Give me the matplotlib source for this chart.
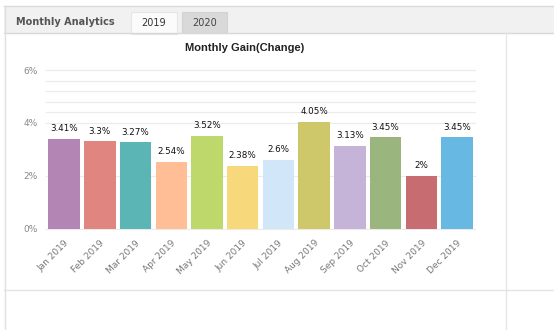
import matplotlib.pyplot as plt
from matplotlib.patches import Rectangle

# data
months = ['Jan 2019', 'Feb 2019', 'Mar 2019', 'Apr 2019', 'May 2019', 'Jun 2019',
          'Jul 2019', 'Aug 2019', 'Sep 2019', 'Oct 2019', 'Nov 2019', 'Dec 2019']
gain = [3.41, 3.3, 3.27, 2.54, 3.52, 2.38, 2.6, 4.05, 3.13, 3.45, 2, 3.45]
colors = ['#b285b5', '#e0857f', '#5bb5b5', '#ffbe95', '#bfd86b', '#f7d87b',
          '#d1e7f9', '#cfc86b', '#c5b3d8', '#9bb57f', '#c76c70', '#67b8e3']
tabs = ['2019', '2020']

W, H = 554, 330
fig = plt.figure(figsize=(W / 100, H / 100), dpi=100)

# page decoration in pixel coordinates
bg = fig.add_axes([0, 0, 1, 1])
bg.set_xlim(0, W)
bg.set_ylim(H, 0)
bg.axis('off')
bg.add_patch(Rectangle((4, 6), W - 4, 27, facecolor='#f1f1f1', edgecolor='none'))
bg.plot([4, W], [6, 6], color='#dadada', lw=1)
bg.plot([4, W], [33, 33], color='#d8d8d8', lw=1)
bg.plot([4.5, 4.5], [6, H], color='#e0e0e0', lw=1)
bg.plot([505.5, 505.5], [33, H], color='#e6e6e6', lw=1)
bg.plot([4, W], [289.5, 289.5], color='#e3e3e3', lw=1)
bg.text(16, 22, 'Monthly Analytics', fontsize=7, fontweight='bold', color='#555555',
        va='center', ha='left')
bg.add_patch(Rectangle((131, 12), 46, 22, facecolor='#fbfbfb', edgecolor='#e6e6e6', lw=0.8))
bg.add_patch(Rectangle((182, 12), 45, 21, facecolor='#d9d9d9', edgecolor='#d2d2d2', lw=0.8))
bg.text(154, 23, tabs[0], fontsize=7, color='#333333', ha='center', va='center')
bg.text(204.5, 23, tabs[1], fontsize=7, color='#444444', ha='center', va='center')
bg.text(245, 48, 'Monthly Gain(Change)', fontsize=8, fontweight='bold',
        family='Liberation Sans', color='#222222', ha='center', va='center')

# chart
ax = fig.add_axes([46.3 / W, (H - 228.7) / H, (474.9 - 46.3) / W, (228.7 - 70) / H])
ax.set_xlim(-0.5, 11.5)
ax.set_ylim(0, 6)
x = range(len(months))
ax.bar(x, gain, width=0.88, color=colors, zorder=2)
for i, v in enumerate(gain):
    ax.annotate(f'{v:g}%', (i, v), xytext=(0, 4), textcoords='offset points',
                ha='center', va='bottom', fontsize=6.3, color='#111111')

for g in [0, 2, 4, 4.4, 4.8, 5.2, 5.6, 6]:
    ax.axhline(g, color='#ebebeb', lw=0.8, zorder=0, clip_on=False)

ax.set_yticks([0, 2, 4, 6])
ax.set_yticklabels(['0%', '2%', '4%', '6%'])
ax.set_xticks(list(x))
ax.set_xticklabels(months, rotation=45, ha='right', rotation_mode='anchor')
ax.tick_params(axis='y', length=0, pad=6, labelsize=6.5, labelcolor='#888888')
ax.tick_params(axis='x', length=0, pad=7, labelsize=6.5, labelcolor='#777777')
for s in ax.spines.values():
    s.set_visible(False)
ax.patch.set_alpha(0)

fig.savefig('out.png', dpi=100)
